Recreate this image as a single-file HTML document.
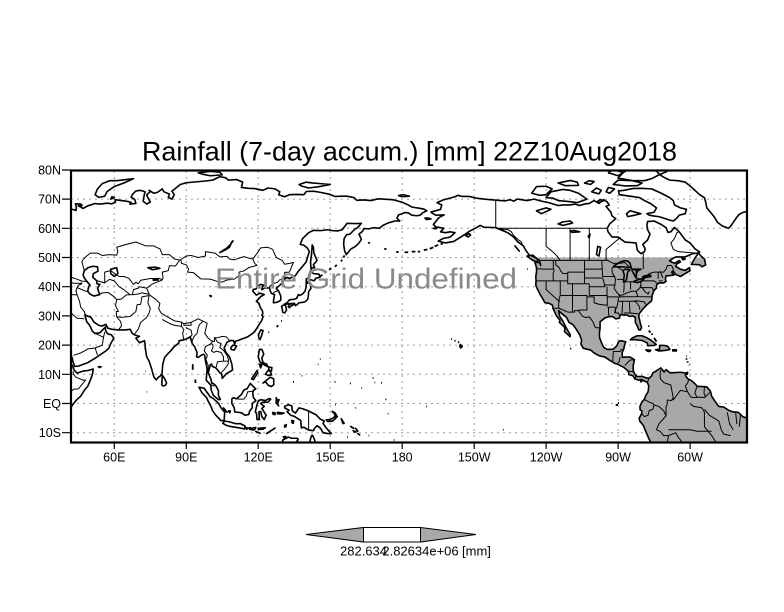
<!DOCTYPE html>
<html><head><meta charset="utf-8"><style>
html,body{margin:0;padding:0;background:#fff;}
svg{display:block;}
text{font-family:"Liberation Sans",sans-serif;fill:#000;}
</style></head><body>
<svg width="784" height="612" viewBox="0 0 784 612" xmlns="http://www.w3.org/2000/svg">
<rect width="784" height="612" fill="#fff"/>
<defs>
<clipPath id="frame"><rect x="71" y="171" width="676" height="271"/></clipPath>
<clipPath id="g50" clipPathUnits="userSpaceOnUse"><rect x="200" y="-30" width="150" height="80"/></clipPath>
</defs>

<!-- grid -->
<g stroke="#9a9a9a" stroke-width="1" stroke-dasharray="2,4" fill="none">
<path d="M114.3 171V442M186.3 171V442M258.2 171V442M330.2 171V442M402.2 171V442M474.2 171V442M546.1 171V442M618.1 171V442M690.1 171V442"/>
<path d="M71 199.1H747M71 228.3H747M71 257.5H747M71 286.7H747M71 315.9H747M71 345.1H747M71 374.3H747M71 403.5H747M71 432.7H747"/>
</g>

<g clip-path="url(#frame)">
<g transform="matrix(2.399,0,0,-2.92,-29.64,403.5)">
<!-- gray land fill -->
<g fill="#a8a8a8" stroke="none" clip-path="url(#g50)">
<polygon points="283.8,-13.5 282.8,-12 281.5,-9.5 280.5,-7.5 279,-6 278.8,-5 279.8,-3.5 279.9,-2.5 279.2,-2.2 279.1,-1 279.9,0.5 281,1.5 281.5,2.7 282.5,4 282.8,6 282.2,7.2 281.5,7.5 280.2,8 279.5,7.4 279.8,8.2 278.5,8 277.5,8.3 277,8.4 276.2,9.5 274.5,9.9 274.3,11 272.5,12.3 270.2,13.3 268.5,13.8 266.5,14.8 264.5,15.9 262.2,16.3 260,17.3 258.6,18.3 255.5,18.9 254.5,20.4 254.8,21.7 254,23.5 252.5,25.5 251.2,27 249.5,27.8 248.5,29.5 246.5,30.8 245.2,31.8 245.6,30 247,28.2 248,26.5 249,25 250.1,23.5 250,22.9 248.5,24 247.7,24.6 247.8,26 245.5,27.8 245.8,28.5 244.3,30 243.5,31.5 242.9,32.5 242.6,33.7 241.2,34.3 239.5,34.5 238.5,36 237.5,37.3 236.8,38.5 236.2,39.5 235.7,40.5 235.8,42 235.7,43.5 236,45 236,46.5 235.3,48.4 237.5,48.2 237.7,47.3 237.2,49 235.5,50 233,50.8 231.5,52.5 240,60 300,60 303,51.5 301,51.3 298,50.2 294,50.2 292.5,49.5 291.5,48.8 293.5,48 295.5,49 296,48.5 294.5,47.8 294,47 296,46 298,45.6 299.7,46.5 300,45.5 296,43.5 294,44.2 293,45.3 292.3,45 293.3,44 291.5,43.8 290,43.7 289.7,42.5 290,41.8 289,41.3 287,41.3 286,40.5 286,39.5 285,38.8 284.2,37 284,35.2 283,34.5 282,33.8 280.5,32.5 279,31 278.6,30 279.4,27 279.8,26 279.3,25.2 278.6,25.2 278,26.6 277.2,27.8 277.2,29.5 276,30 275,29.8 273.5,30.3 271,30.4 270.5,29.2 269,29 267.7,29.8 266,29.7 264.5,29.3 262.5,28 262.5,26 262.2,24 262.3,22.5 263,21 264,19.2 265.5,18.5 268,18.6 269.5,19.8 270.3,21.3 271.5,21.5 273.2,21.1 272.7,20 272.3,18.5 271.7,17.5 271.8,15.8 273,15.9 275,15.9 276.8,15 276.3,13 276.3,11.5 276.5,10.8 277,10 278,9.2 280,9.3 282,8.7 283,8.7 284,9.5 284.5,10.5 286,11.2 286.7,11.6 287.8,12.2 288.5,11.5 289.2,10.8 290,11.6 291.7,10.5 294,10.6 296,10.7 298.4,10.4 298,9.7 299,8.5 300.5,7.9 302,6.8 303,5.9 305,5.8 307,5.7 308.5,4.2 309,2.5 310.2,1 311.5,-0.5 312,-1 314,-1.2 316,-2.3 318,-2.9 320,-3 322,-4.5 324.5,-5.3 330,-5.3 330,-20 283.8,-20"/>
<polygon points="275.1,21.8 276,22.5 278,23.2 280,23.2 282,22.5 284,21.5 285.9,20.2 285,19.9 282.3,19.8 282.2,20.7 280,21.6 278.5,21.7 277,21.9"/>
<polygon points="285.6,18.4 287.3,18.6 287.3,19.9 289,19.9 290.7,19.6 291.6,18.5 290,18.2 288.5,18.1 287,18"/>
<polygon points="281.6,18.4 283.6,18.2 283.2,17.8 282.3,17.9"/>
<polygon points="292.8,18.4 294.3,18.4 294.3,18 292.8,18"/>
<polygon points="300.5,47.6 302,49.8 303.5,51.5 304.5,50.5 306,49.5 306.5,47.5 305,46.8 304,47.5 302,47.6"/>
<polygon points="234.5,50.8 236.5,49.3 236.4,48.4 234.5,49 232,50.5"/>
<polygon points="298.5,10.5 299,10.7 298.8,10 298.3,10.1"/>
</g>

<!-- coastlines -->
<g fill="none" stroke="#000" stroke-width="1.6" stroke-linejoin="round">
<polyline vector-effect="non-scaling-stroke" points="41.8,66.6 43,66.4 44,66.1 44.2,67.3 43.8,68.4 46,68.3 46.6,67.8 45,67.7 47,66.8 49,67.7 52,68.5 53.5,68.3 55,68.4 57,68.6 59,68.4 60.5,68.9 60.3,69.8 63,69.5 65,69.3 67,68.9 66.5,68.3 69,68.5 68.5,69.9 67,70.7 67.5,71.5 69,72.8 71,73 72.8,72.5 72.5,71.5 72,69.3 73.5,68.3 75,69 74,70.5 73.5,71.5 75,72.5 74.5,73 76.5,72 78,72.3 80,73.5 80.7,72.5 83,71.7 82.5,70.6 84,70 85,71.5 84,72.7 86,74 87.5,75 90,75.6 94,75.9 98,76.2 101,76.5 104,77.7 106.5,77.3 107.5,76.5 111,76.7 113.5,75.8 113,74 116,73.7 118.5,73.6 122,73 124,73.8 127,73.5 129,72.5 128.5,71.5 131,70.8 133,71.5 136,71.6 139,71.5 140,72.6 143,72.7 146,72.3 150,71.6 152,70.9 155,71 157,71 160,70.5 161,69.6 164,69.7 167,69.5 170,70.1 174,69.9 176,69.8 178,69.4 180,68.9 182,68.2 184,67.3 187,66.9 189,66.6 190.3,66 188.5,65.3 187.5,64.5 186,64.3 184,64.5 182.5,65.3 181,65.4 180,65 178.5,64.6 177.8,63.5 179,62.5 177,62.5 174,61.8 172,61 170.5,60 168,60.2 166,59.8 164,59.9 163.5,59 162,58 163,56.2 162,55 160.5,53.8 158.6,52.9 156.7,51 156,52.3 155.6,54.5 155.8,56.5 156.8,57.8 158.2,58 160,59.5 161.5,60.3 163,61.7 160.5,61.6 157,61.7 155,59.5 153,59.1 151,59.2 149,59.5 146,59.2 143,59.3 141,58.5 138.5,56.5 137.5,54.5 139,54.2 140.5,53.2 141.3,52 140.5,50 140,48.5 138.5,47 137,45.6 135.5,43.8 133,42.8 132,43.2 131,42.6 130.5,42.3 129.7,41 128,39.8 127.5,39.4 128.5,38.5 129.4,36.8 129.4,35.5 129,35.1 127.5,34.6 126.3,34.5 126.5,36 126.8,37.3 125.5,37.7 125,38.6 124.7,39.6 122.5,39.5 121.5,39 121.6,40 122.3,40.5 121,40.8 120,40.2 119,39.2 118,39.1 117.7,38.5 118.8,37.5 119.2,37.1 120.7,37.8 122.5,37.3 121,36.6 120.5,36.1 119.2,35 120.3,34.3 120.8,33 121.8,31.6 121.9,30.8 121.5,30.2 122,29.8 121.5,28.5 120.5,27.2 119.6,26 118.5,24.6 117,23.6 115.5,22.8 114,22.3 113.5,22.2 112,21.7 110.5,21.3 110.2,20.3 109.7,21.5 108.5,21.6 107,21 106.5,20.2 105.8,19 106.5,17.5 108,16 109,13.5 109.3,11.5 108,10.8 106.8,10.3 105,8.6 104.8,10 104,10.5 103,11.5 102.3,12.2 100.9,12.7 100.5,13.5 100,13.2 99.2,10.5 99.8,9.2 100.3,8.3 100.6,7 101.3,6.8 102.2,6.2 103.4,4.5 103.4,2.8 104.2,1.4 103.5,1.3 101.3,2.8 100.4,4.5 100.2,6.3 98.3,8 98.5,10 98.7,12 98,14.5 97.7,16.5 97.2,16.9 96,16.4 95,15.8 94.3,16 94.5,17.5 93.5,19.4 92.4,20.7 92,21.8 91.5,22.8 90.5,22.3 89,21.8 87,21.5 86.9,20.7 85,19.5 83.5,18 82.3,17 81,15.8 80.2,13.5 79.9,10.3 79,9.3 78.2,8.9 77.5,8.1 76.6,8.9 76,10.5 75.5,12 74.5,14.5 73.5,16 72.9,19 72.8,20.5 72.6,21.5 70.5,20.8 69,22.4 70.5,23 68.5,23.5 67.5,24 66.6,25.4 64.5,25.2 61.6,25.2 59,25.4 57.3,25.8 56.5,27.1 54.7,26.5 53.5,26.8 51.5,27.9 50.2,29.6 48.5,30 47.8,30.5 48,29.5 48.5,28 49.5,27 50.2,26 50.8,24.8 51.6,24.2 52,24 54,24.2 55.5,25.5 56.3,26.2 56.4,24.9 57.2,23.9 58.8,23.5 59.8,22.4 58.5,20.5 57.8,19 56.5,18 55.2,17.3 52.2,15.6 49,14 45,12.8 43.5,12.7 42.7,14.5 42.5,15.5 41.8,16.8"/>
<polyline vector-effect="non-scaling-stroke" points="41.8,-1.6 42.5,-0.6 44,1 46,2.5 47.5,4.5 49,6 50.5,9 51,10.4 51.2,11.8 49,11.3 47,11.1 44.5,10.4 43.2,11.5 42.8,12.5 42,13.7 41.8,14.2"/>
<polyline vector-effect="non-scaling-stroke" points="283.8,-13.5 282.8,-12 281.5,-9.5 280.5,-7.5 279,-6 278.8,-5 279.8,-3.5 279.9,-2.5 279.2,-2.2 279.1,-1 279.9,0.5 281,1.5 281.5,2.7 282.5,4 282.8,6 282.2,7.2 281.5,7.5 280.2,8 279.5,7.4 279.8,8.2 278.5,8 277.5,8.3 277,8.4 276.2,9.5 274.5,9.9 274.3,11 272.5,12.3 270.2,13.3 268.5,13.8 266.5,14.8 264.5,15.9 262.2,16.3 260,17.3 258.6,18.3 255.5,18.9 254.5,20.4 254.8,21.7 254,23.5 252.5,25.5 251.2,27 249.5,27.8 248.5,29.5 246.5,30.8 245.2,31.8 245.6,30 247,28.2 248,26.5 249,25 250.1,23.5 250,22.9 248.5,24 247.7,24.6 247.8,26 245.5,27.8 245.8,28.5 244.3,30 243.5,31.5 242.9,32.5 242.6,33.7 241.2,34.3 239.5,34.5 238.5,36 237.5,37.3 236.8,38.5 236.2,39.5 235.7,40.5 235.8,42 235.7,43.5 236,45 236,46.5 235.3,48.4 237.5,48.2 237.7,47.3 237.2,49 235.5,50 233,50.8 231.5,52.5 230.5,54 228,55.5 226.5,57 224,58.5 221,59.5 219,60.2 214,60.4 212.5,61 210,59.8 208,59 206,57.8 204,56.8 201.5,55.5 198,55 195,55.6 197,56.5 200,57 202,58.5 200,58.8 198,58.5 196,58.8 197.3,60 194,60.5 193,61.3 194.5,62.8 195,63.4 196,64 197.5,64.6 194,64.5 192.5,65.2 192,65.6 194,66 196,66.5 196.5,68 194.5,68.8 197,69.7 202,70.8 203.3,71.3 205,70.9 208,70.9 211,70.3 214,70 218,69.7 221,69.5 223,69.4 225,69.8 226.5,69.3 228,70 232,69.5 235,70 238,69.3 241,68.8 245,67.8 247,68 250,68 252,68.3 254,67.8 256,68.3 258,68.5 260,69.5 262,68.5 264,69.8 265.5,69 266.3,68 265,67.5 266,66.5 267,65.5 267.5,64.2 269,63.3 266.5,61.5 265.5,60 265.8,58.8 267.5,57 270,57 272.8,55.3 277.5,55 278,52.5 279.5,51.3 281,52 281.3,53 280.3,54.5 282.3,56 283.3,58 282.3,59.5 282,61 282.3,62.3 285,62.5 288,61.3 290,60.2 290.8,58.6 292,58.8 293.5,60.3 295.5,58.8 298,56 300,55 302,53 304,51.9 303,51.5 301,51.3 298,50.2 294,50.2 292.5,49.5 291.5,48.8 293.5,48 295.5,49 296,48.5 294.5,47.8 294,47 296,46 298,45.6 299.7,46.5 300,45.5 296,43.5 294,44.2 293,45.3 292.3,45 293.3,44 291.5,43.8 290,43.7 289.7,42.5 290,41.8 289,41.3 287,41.3 286,40.5 286,39.5 285,38.8 284.2,37 284,35.2 283,34.5 282,33.8 280.5,32.5 279,31 278.6,30 279.4,27 279.8,26 279.3,25.2 278.6,25.2 278,26.6 277.2,27.8 277.2,29.5 276,30 275,29.8 273.5,30.3 271,30.4 270.5,29.2 269,29 267.7,29.8 266,29.7 264.5,29.3 262.5,28 262.5,26 262.2,24 262.3,22.5 263,21 264,19.2 265.5,18.5 268,18.6 269.5,19.8 270.3,21.3 271.5,21.5 273.2,21.1 272.7,20 272.3,18.5 271.7,17.5 271.8,15.8 273,15.9 275,15.9 276.8,15 276.3,13 276.3,11.5 276.5,10.8 277,10 278,9.2 280,9.3 282,8.7 283,8.7 284,9.5 284.5,10.5 286,11.2 286.7,11.6 287.8,12.2 288.5,11.5 289.2,10.8 290,11.6 291.7,10.5 294,10.6 296,10.7 298.4,10.4 298,9.7 299,8.5 300.5,7.9 302,6.8 303,5.9 305,5.8 307,5.7 308.5,4.2 309,2.5 310.2,1 311.5,-0.5 312,-1 314,-1.2 316,-2.3 318,-2.9 320,-3 322,-4.5 324.5,-5.3"/>
<!-- Greenland -->
<polyline vector-effect="non-scaling-stroke" points="284,80.5 286,79.5 287.5,78.3 289,77.5 291.5,76.5 295,76.3 298,75.8 300,74.5 302,73 304,71.5 306,70.5 306.5,69 307,67 308.5,65.5 310,64 311.5,62 313.5,60.8 316,60 317,60.8 318,62 319.5,63.8 320.5,64.8 322,65.4 324.5,66"/>
<!-- closed islands / lakes -->
<path vector-effect="non-scaling-stroke" d="M47,44 47.5,45.5 49,46.5 51,47 53,46.8 53.2,45.3 51.3,44.5 51,43.3 52.7,42 52.8,41 54,40.8 53,39.5 53.9,37.3 51.5,36.8 50,37.4 48.9,38.4 49.3,40 49.9,40.5 48.6,41.8 47.5,43Z
M58.5,46 61,46.5 61.5,44.5 60,43.5 58.5,44.5Z
M74,46.5 77,46.7 79,46.3 76,45.8Z
M104,51.7 105.5,52.5 107,53.3 108.5,54.5 109.5,55.7 109,55.4 108,53.5 106.5,52.7Z
M76.2,42.4 78.2,42.8 78.3,42.3 76.3,42.2Z
M99.8,37 100.5,36.8 100.2,36.6Z
M79.8,6.5 80,9.7 81,8.5 81.8,7 81.3,6.2 80.2,6Z
M108.6,19.2 109.5,20 111,19.7 110,18.3 108.7,18.5Z
M120.2,22.5 120.1,23.5 121,25.2 122,25 121.5,23.5 120.8,21.9Z
M130.9,34 132,34.5 133,35.5 135,35.7 136,36 136.7,37.3 137.3,37 138.5,37.5 139.5,38.5 140,40 140,41.2 141.5,41.2 142,39.5 141,38.3 140.9,36.9 140.6,35.7 139.8,35 139,34.7 137,34.5 136.8,34.3 135.5,33.5 135.1,34.3 133,34.2 131,33.9Z
M129.7,33.3 130,32.5 130.2,31.3 131,31 131.8,32 131.5,33.3 130.9,33.9Z
M132.5,33.2 133,34 134.5,34.2 134.7,33.8 133.5,33.3 133,32.8Z
M140,41.5 140,42.6 141.5,43.4 141.7,45.4 143,44.5 145.3,44.3 145.8,43.3 144,42.9 143.3,42 141.5,42.5 140.8,41.8Z
M142,46 141.8,48.5 142.2,51 142.5,54.3 143,53.5 143.2,51.5 144.5,49 143,47.5 143.5,46.5 142.5,46.5Z
M120.5,18.5 121.5,18.5 122.3,17 121.5,15.5 122,14 123.5,13.5 124,12.6 123,13 121.5,13.8 120.6,14.4 120,16Z
M122,7 123.5,8 125,9 126.4,8.5 126.5,6.5 125.5,5.8 124.2,6.2 123,7.5Z
M123,10 124,11.3 125,11 125.6,9.8 124.3,9.6Z
M124.3,12.5 125.7,12.3 125.5,11.1 124.5,11.5Z
M117.2,8.4 119.5,11.3 119.8,10.5 118,8.2Z
M120.5,13.5 121.5,13.2 121,12.2Z
M109,1.5 109.6,2 111,1.6 113,3.1 114,4.6 115.4,5.1 116.7,6.9 117.7,6 119,5 118,4.5 117.7,3.5 118,2 119,1 117.5,0 117.5,-1.5 116.5,-2.5 116,-3.8 114.5,-4 113,-3.2 111.5,-3 110.2,-2.9 110,-1.5 109,0Z
M95.3,5.6 97.5,5.2 98.3,4.2 100,2.3 101.3,1.7 103.5,0 104.5,-1.5 106,-3 105.8,-5.8 104.5,-5.9 102.3,-4 101,-2.5 100.3,-1 99,1 98.5,2 96.5,3.7Z
M105.2,-6.8 106,-6 108,-6.3 110.5,-6.9 112.5,-6.9 114.5,-7.7 114.4,-8.7 111,-8.2 108,-7.8 106.5,-7.4Z
M105.5,-1.5 106.5,-2.5 107,-3 105.8,-2.3Z
M107.6,-2.6 108.3,-2.5 108.2,-3.2Z
M115,-8.3 115.7,-8.4 115.2,-8.8Z
M116.1,-8.4 116.7,-8.3 116.5,-8.9Z
M117,-8.5 119,-8.2 118.5,-9 117.2,-9Z
M120,-8.5 123,-8.3 122,-8.8 120,-8.9Z
M124,-10 127,-8.4 125,-9.5 123.5,-10.3Z
M119,-9.6 120.8,-10.2 119.5,-9.9Z
M119.5,-5.5 119.3,-3.5 118.8,-2.8 119.6,0 120,0.8 121,1.3 123,1 124.5,1.7 125.2,1.5 124,0.4 122,0.5 121,0 122.5,-1 121.5,-1.7 123.3,-4 122.5,-5.5 121.5,-4.5 121,-2.7 120.3,-2.9 120.5,-5.5Z
M127.5,2 128,1 128.7,1.3 128,0 128.5,-0.8 127.5,0.2Z
M128,-3 130.8,-3.3 129.5,-3.6 128,-3.5Z
M126,-3.1 127,-3.2 127,-3.8 126.2,-3.7Z
M131,-7.5 131.7,-7.2 131.5,-8 131,-8.1Z
M134,-5.8 134.8,-6 134.6,-6.8 134.1,-6.6Z
M131,-1 132.5,-0.4 134,-0.8 134.2,-2.5 135.5,-3.3 137,-1.5 138.5,-1.8 140.5,-2.4 142,-3 144,-3.8 145.8,-5.3 147.5,-6 147,-6.8 148,-8 149,-9 150.5,-10.3 149,-10.3 147,-10 146,-8.5 144.5,-7.6 143.5,-8.5 143,-9.3 141,-9.1 139,-8.1 138,-8.4 137.7,-5.8 135,-4.4 133.5,-4 132,-2.8 132.8,-2.3 131,-1.5Z
M148.3,-5.6 150,-5.5 151.5,-4.8 152,-4.2 152.4,-5 151,-6 149,-6.2Z
M150.8,-2.7 152.5,-4.2 153,-4.6 152,-3.2Z
M154.6,-5.2 155.8,-6.8 155.3,-6.9Z
M159.6,-9.3 160.8,-9.8 160,-9.7Z
M160.6,-8.5 161.5,-9.5 161,-9.1Z
M158.5,-7.8 159.8,-8.5 159.2,-8.3Z
M161.5,-10.3 162.3,-10.8 161.8,-10.5Z
M52,71.5 53,73.5 55,75.3 58,76.3 61,76.3 68,77 64,75.5 60,74.3 57,72.6 56,71 53.5,70.6Z
M58.5,70 60,70.5 59,70.8Z
M95,79 100,79.5 104,79.2 105,78.3 100,78 97,78.5Z
M137,75 140,75.8 143,75.5 146,75.3 150,75 145,74.2 141,73.8 138,74.5Z
M178.5,71.2 180.5,71.5 183,71 180,70.8Z
M279.5,73.7 284,73.5 288,72 291.5,70.5 293,69.5 293.5,68 296,67 298.5,66.5 298,65 295.5,64.5 294.5,63.5 293,62.5 291.5,62.8 289,63.5 287,64 285,64.2 283,64.5 282,65 285,65.5 286,67 283.5,68.5 281,69.5 279,70.5 275,71 270.5,71.5 270.2,72.8 272.5,73 276,73.6Z
M274,64 277,64.5 279.5,65 275,66 273.5,65Z
M240,70.5 242,72.5 247,73.3 250,73 253.5,72 257,70 253,68.8 249,69.2 245,69.5 243,70.3Z
M234,72 236,74.3 240,74.4 242.5,73.5 240,71.5 237.5,71.3Z
M245,75.5 250,76.4 253,75.8 253.5,74.7 248,74.6Z
M259,72.5 261,73.8 263,73 262,71.8Z
M265,72.5 266,74 268.5,73.5 266.5,72Z
M268,75 270,76.5 276,76.3 280,75.5 278,74.6 273,74.5Z
M275,80.5 272,79 270,77.2 276,76.3 281,76.3 284,77 287,78.3 290,79.3 292,80.5Z
M266,79 268,80.5 272,79 270,78Z
M256,75.5 258,76.3 260,76 258.5,75Z
M262,68.8 264,69.5 262.5,69.8 261,69Z
M236,66 240,67 242,66.5 238,65Z
M245,61.5 247,62.2 250,62.5 251,61.8 247,61Z
M262,50.5 262.7,53.5 261.5,53.8 261,51Z
M250,59 251.5,59.3 254,58.8 251,58.6Z
M257.5,57.2 258.3,58 258,56.8Z
M275.5,46.5 273,46.7 271,46.8 268,46.8 268.5,47.3 271,48.5 272.5,48.9 274,48.8 275,48 275.3,47Z
M272.2,41.7 272.6,44 272,45.5 273,46 275,45.8 274,45 273.5,42.5 272.8,41.7Z
M277.5,43 277.7,44.5 278,45.3 279.5,46 276,46 275.8,45.5 276.5,44.5Z
M276.5,41.7 278,41.4 280,42 281,42.9 279,42.6 277,42Z
M280.2,43.3 282,43.2 283.7,43.5 283.5,44 281,43.7Z
M275.1,21.8 276,22.5 278,23.2 280,23.2 282,22.5 284,21.5 285.9,20.2 285,19.9 282.3,19.8 282.2,20.7 280,21.6 278.5,21.7 277,21.9Z
M285.6,18.4 287.3,18.6 287.3,19.9 289,19.9 290.7,19.6 291.6,18.5 290,18.2 288.5,18.1 287,18Z
M281.6,18.4 283.6,18.2 283.2,17.8 282.3,17.9Z
M292.8,18.4 294.3,18.4 294.3,18 292.8,18Z
M300.5,47.6 302,49.8 303.5,51.5 304.5,50.5 306,49.5 306.5,47.5 305,46.8 304,47.5 302,47.6Z
M234.5,50.8 236.5,49.3 236.4,48.4 234.5,49 232,50.5Z
M227,54 228,53 228.8,52.2 227.5,53.5Z
M206.5,57.5 207.8,58.2 208.5,57.7 207.5,57Z
M189.5,63.5 191,63.5 192,63.2 190,63Z
M193,60 194.5,60.2 194,59.8Z
M204.2,20.2 205,19.6 204.5,19 204,19.5Z
M53.3,12.6 54.5,12.6 54,12.3Z
M296.5,49.8 298,49.5 297,49.2Z
M298.5,10.5 299,10.7 298.8,10 298.3,10.1Z
M142.5,-10.7 142,-11.5 141.6,-12.8 141.5,-13.6 M143.8,-13.6 143.5,-12.5 143,-11.5 142.5,-10.7
M136.8,-12.2 136,-11.9 134,-11.9 132.5,-11.5 131,-12.2 130.2,-12.5 130,-13.6 M136.8,-12.2 136,-13 135.5,-13.6
M130.5,-11.4 131.5,-11.3 130.8,-11.8Z"/>
<!-- small dots (islands) -->
<path vector-effect="non-scaling-stroke" stroke-width="1.8" d="M203.3,21h0.5M201.8,21.5h0.5M200.4,22.1h0.4M145.7,15.2h0.3M144.8,13.4h0.3M134.5,7.4h0.4M138.1,9.5h0.3M158.2,6.9h0.4M151.8,7.4h0.4M163,5.3h0.3M171.2,7.1h0.4M167.7,8.7h0.4M173,1.4h0.4M168.5,7.2h0.3M152,-0.4h0.3M269,-0.5h1M270,0.2h0.4M127.7,26.2l0.6,0.6M129.5,28.3h0.4M124.2,24.4h0.4M145.5,43.5l1.3,0.5M147.5,44.8l1,0.5M149.5,45.8l1,0.5M152,46.8l0.7,0.7M154.5,48.7l0.5,0.5M155.5,50l0.5,0.7M165.8,55.2l0.7,-0.4M172.5,52.9h1M177.5,51.9h1M181,51.8h1.5M184,52h1.5M186.5,52h1M189,52.5l1.5,0.3M191.5,53l1.5,0.5M193.5,53.8l1.5,0.5M196,54.7h1M92.7,11.5v2M93.8,7v1.2M73.5,4h0.2M72.8,11h0.2M282.5,26.5h0.5M282.8,25l0.7,-0.7M284,24l0.3,-0.5M285,22.5l1,-1.3M298.5,15v0.5M299,14v0.5M298.3,16.2h0.3M299.5,13.2h0.2M160.5,-1.5h0.3M174,-3.5h0.3M166,-11h0.3M190,-1h0.3M157,-11.5h0.3M176.5,-12.5h0.3M232,46h0.3M250,18.8h0.5M222,-9h0.3"/>
</g>

<!-- borders -->
<g fill="none" stroke="#000" stroke-width="1" stroke-linejoin="round">
<path vector-effect="non-scaling-stroke" d="M47.5,45.6 47,47 46.5,48.5 47,49.3 48.5,50.5 50,51.5 53,51.5 55,50.7 58,51 61,50.8 61.5,52 61,53.5 65,54.5 69,55.3 73,54 76.5,54 77.5,53.5 79,53 80,51 83,51 85,49.5 87.3,49.1 90,50.5 92,50.7 95,50 98,50.5 98,52 102,51.5 104,50.2 107,50.4 108,49.5 110,49.2 114,50.3 116,49.8 117.8,49.5 120,52 121,53.3 124,53.5 126,52.8 127.5,50 130,49 131,47.7 133,48 134.7,48.3 134,47 133,45 131,44.9 131.2,43.3 130.5,42.5
M87.8,49.1 88,48 90,47.5 91,46 90.5,45 93,44.8 96,42.7 100,42.6 103,41.8 105,41.6 107,42.3 110,42.6 112,43.8 112,45 114,45.4 116,46.5 117,46.8 119.5,47.3 118.5,48 117.8,49.5
M87.3,49.1 85.5,47.1 83,47.2 82.5,45.5 80,45 80.3,43 80,42.3 76,41 73.5,39.5 74.5,37.5 75,37 77.5,35.5 79,34.3 78.5,32.5 79.5,31 81,30.2 83,29.3 85,28.3 88,27.9 89,27.3 92,27.8 95,29 97,28.2 98.7,27.5 98,25 97.7,24 99,22.5 100.5,21.5 101.8,21.2 101.7,22.5 103,22.5 105,23 106.7,22.8 108,21.6
M80,42.3 79,42.8 75,42.8 71,42.2 70,41 69,41.5 68,40.8 66,42.9 64,43.5 62,43.5 58.5,45.5 56,45 56,41.3 53,42
M56,41.3 58,42.5 60,42 61,41 62,40 64,39 66.5,37.3
M67.5,37.3 68,39 70,39.5 70.5,40 73.5,39.5
M74.5,37.4 71.5,37.9 70,37.5 67.5,37.3 65,37.2 63,35.8 61,35.6 60,36.5 57.5,38 55,37.9 53.9,37.3
M61,35.6 60.5,33.5 61.7,31.5 60.8,31.5 61,29.7 62.7,28 63,26.5 61.6,25.2
M74.5,37 71.5,36.5 71,34 69.5,33.8 69,31.5 66.5,29.8 63,29.5 61,29.7
M74.5,37 74,34.5 75,32.5 74.5,31 73.5,29.5 71,27.8 70,25.5 68.5,23.8
M48,30 47.5,31.5 46,33 45.5,35 44.5,37.2 44,38.5 44.5,39.7 45,40.5 46.5,41 46,41.5
M41.8,43.3 44,42.7 46.5,41.9 48.5,41.8
M41.8,41.5 43,41.2 45,41.2 46.5,41
M44.5,39.7 46.5,39 48,38.5 48.8,38.4
M47.5,29 46.5,29.1 44.5,29.2 42,31
M41.8,37.1 42.5,37.3 44.5,37.2
M43,16.5 46,17.3 49,18.7 52,19 55,20 55.5,22.7 56,24.5
M52,19 53,16.6
M52,24 55.5,22.7
M80,28.8 83,27.4 85,26.8 88,26.4 88,27.9
M89,27.3 89,26.8 92,26.8 92,27.8
M88.1,26.3 89,25.3 88.5,24.2 88.8,22.5 89,21.8
M89.8,26 92,25.1 92.4,23.5 91.8,23 92.4,20.7
M97,28.2 95.5,27 95,26 94.5,24 93.3,23 92.7,22 92.4,21
M101.2,21.5 100.1,20.4 98,19.5 97.5,18 98.8,16.5 98.2,15 99.2,13 99,11 98.5,10
M100.1,20.4 101,20.3 101.2,19.5 100.5,18 101.5,17.5 102.5,17.9 104.5,17.5 105.5,16 105.5,14.5 103,14.3 102.5,12.5
M102,22.4 103,21 104.5,20.5 104,19.2 105.5,18.2 107,16.5 107.6,15 107.5,13.5 106,11.8 104.5,10.5
M105.5,14.5 107.5,14.5
M100.2,6.5 101.3,6 102,6.2
M126.2,37.7 127,38.3 128.3,38.6
M124.5,39.9 126,41 128,41.5 129,42.4 130.5,42.5
M41.8,3.9 43,4.9 45,5 48,8 47,8 44,9 43,10 42.8,11
M109.6,1.9 112,1.5 114,1.5 115,2.5 115.6,4 117.6,4.2
M141,-2.6 141,-9.1
M237.2,49 265,49 265,49.3 266.5,48.6 268,48 270.5,48 272.8,48.3 275,46.5 276,46 277.5,45.5 277.5,43 279.5,42.5 280.8,43.2 282,43.8 283,44.5 285,45 289,45 290,46 290.5,47.2 292,47.3 292.5,47 293,46 292.8,45.2 293,45
M219,69.6 219,60.3 221,59.8 222.5,59.5 224,59.6 225.5,58.8 226.5,57.5 228.5,56 229.5,55.5 230,54.7
M242.9,32.5 245.2,32.7 249,31.3 251.8,31.3 251.8,31.8 253.5,31.8 255,30 256.5,29.4 258,29.7 259.5,28 260.5,26 262.8,25.9
M240,60 240,53.8 242,52.5 244,51 245,50 245.9,49
M220,60 265.3,60
M250,49 250,60 M258,49 258,60
M265,49 265,52.8 271,56.9
M280.5,46 280.5,52
M302.5,51.5 295,52 293,52.8 292,55 293.5,56.5 294.5,58.5 295.5,58.8
M267.8,14.5 268,17.8 268.8,17.8 270.8,17.8 271.3,18.5 272,18.3
M270.8,15.9 270.5,14.4 269.7,13.8
M272.8,13 275,14.9 276.8,15
M274.3,11.1 276.3,10.9
M277.1,8.3 277.4,9.6
M282.3,7.2 282.8,8.6
M287.8,11.5 287.5,10 287.6,8.5 289,7.2 292,6.3 292.5,4 293,2 292.2,1 290.5,1.2 290.5,-0.2 290,-1 290,-4.2
M281,1.3 283,0.5 284.5,0 285,-0.5 287,-1 289,-2.5 290,-4.2
M279.8,-3.5 281,-4.5 282.5,-4 283,-2.4 284.5,-2 285,-0.5
M290,-4.2 287,-7 286,-9 287.5,-9.5 289,-11 291,-11
M291,-11 294,-10 295,-11.5 297,-13.5
M291,-11 290.5,-13.5
M299.5,8.5 299,7 298,6 299,4 296,4.5 293,1.2 293,2
M299,4 300.3,2.2 302,2 304,2.2 306,2 308.5,4
M302.9,5.9 302,3.5 303,2
M306,5.7 305.8,3.5 306.5,2.1
M306,-2 308,-4 312,-6 313,-9 314,-10.5 317,-11
M300,0 301.5,-1 305,-1.5 306,-3 306,-8 309,-11 311,-13.5
M291,-9 300,-9 303,-9.5 309,-9.5
M315.5,-3 316.5,-7 318,-9
M319,-3 319.5,-7
M321,-4 320.5,-8
M243,49 243,46.4 243.3,45.5 242.9,44.5 243,42
M235.8,42 249,42
M236,46.2 239,46 243,46
M240,42 240,39 245.4,35
M245.9,42 245.9,37 245.4,36 245.5,35 245.2,34.3 245.3,32.7
M246,37 251,37
M251,41 251,31.3
M251,37 257,37 257,36.5 260,36.5 260,34.5 262,34 265.5,33.6 265.5,36.5
M257,36.5 257,32 253.5,32
M249,42 249,41 258,41
M249,45 249,42
M244,49 244,47.5 245.5,46.5 246,45.5 247,44.5 249,44.5
M249,45 256,45
M256,49 256,41
M258,41 258,37
M256,46 263.5,46
M263.2,49 263.4,46 263.5,43.5
M256,43 263.5,43
M263.5,43.5 268.8,43.5
M263.5,43 264,42 264.2,41 264.5,40 258,40
M265.4,40 265.4,36.5
M258,37 265.4,37
M264.5,40.6 268.6,40.6
M265.4,36.5 270,36.5
M266,33 266,31 266.3,29.7
M265.5,33 268.8,33
M268.8,33 269,31 270.2,31 270.5,30.2
M267.5,44.8 267.5,46.5 268,46.8
M267.5,44.8 268.5,43.5 268.9,42.5 268.7,40.6 268.3,39.5 269.5,38 270.8,37 270.1,36 270,35 269.5,33 268.8,32 268.5,31
M269.5,42.5 272.5,42.5
M272.5,41.7 272.5,39.5 272.3,38
M275.2,41.7 275.2,39
M272.5,41.7 276.5,41.7
M270.2,37 272,37.2 274,38 276,38.5 277.5,38.4 279,39.5 279.5,40.6
M270.5,36.5 278.3,36.6 284,36.5
M269.8,35 275.7,35
M271.9,35 271.6,30.3
M274.7,35 274.9,32 275,31
M272.4,31 275,31 278.5,30.7
M275.7,35 276.5,35 277.5,34.8 279,33 279,32
M276.5,35 277.5,35.2 281,34.8 281.5,33.9
M279.5,42 279.5,39.7 284.2,39.7
M279.5,42 285,42 286.5,41
M286.7,45 286.7,42.7
M287.5,45.3 288.7,43
M277.5,38.4 278.3,36.6
M280,39.7 281,38.5 282.5,37.5 283,38.3
M284.2,39.7 284.8,38.5
M270,46.6 272,45.5
M287,42 288.5,42"/>
</g>
</g>
</g>

<!-- frame -->
<rect x="71" y="170.5" width="676" height="272" fill="none" stroke="#000" stroke-width="2.2"/>

<!-- ticks -->
<g stroke="#000" stroke-width="1.2">
<path d="M62 170H71M62 199.1H71M62 228.3H71M62 257.5H71M62 286.7H71M62 315.9H71M62 345.1H71M62 374.3H71M62 403.5H71M62 432.7H71"/>
<path d="M114.3 443V449M186.3 443V449M258.2 443V449M330.2 443V449M402.2 443V449M474.2 443V449M546.1 443V449M618.1 443V449M690.1 443V449"/>
</g>

<!-- axis labels -->
<g font-size="12.5" text-anchor="end">
<text x="61" y="174.5">80N</text>
<text x="61" y="203.6">70N</text>
<text x="61" y="232.8">60N</text>
<text x="61" y="262">50N</text>
<text x="61" y="291.2">40N</text>
<text x="61" y="320.4">30N</text>
<text x="61" y="349.6">20N</text>
<text x="61" y="378.8">10N</text>
<text x="61" y="408">EQ</text>
<text x="61" y="437.2">10S</text>
</g>
<g font-size="12.5" text-anchor="middle">
<text x="114.3" y="461.5">60E</text>
<text x="186.3" y="461.5">90E</text>
<text x="258.2" y="461.5">120E</text>
<text x="330.2" y="461.5">150E</text>
<text x="402.2" y="461.5">180</text>
<text x="474.2" y="461.5">150W</text>
<text x="546.1" y="461.5">120W</text>
<text x="618.1" y="461.5">90W</text>
<text x="690.1" y="461.5">60W</text>
</g>

<!-- title -->
<text x="142" y="160.5" font-size="26.5" textLength="535" lengthAdjust="spacingAndGlyphs">Rainfall (7-day accum.) [mm] 22Z10Aug2018</text>

<!-- undefined message -->
<text x="215" y="288.5" font-size="29" textLength="302" lengthAdjust="spacingAndGlyphs" style="fill:#8a8a8a">Entire Grid Undefined</text>

<!-- colorbar -->
<polygon points="306,534.5 363.5,527.5 363.5,542" fill="#a8a8a8" stroke="#000" stroke-width="1"/>
<rect x="363.5" y="527.5" width="57" height="14.5" fill="#fff" stroke="#000" stroke-width="1"/>
<polygon points="420.5,527.5 476,534.5 420.5,542" fill="#a8a8a8" stroke="#000" stroke-width="1"/>
<g font-size="13">
<text x="363.5" y="555.5" text-anchor="middle">282.634</text>
<text x="420.5" y="555.5" text-anchor="middle">2.82634e+06</text>
<text x="462" y="555.5">[mm]</text>
</g>
</svg>
</body></html>
